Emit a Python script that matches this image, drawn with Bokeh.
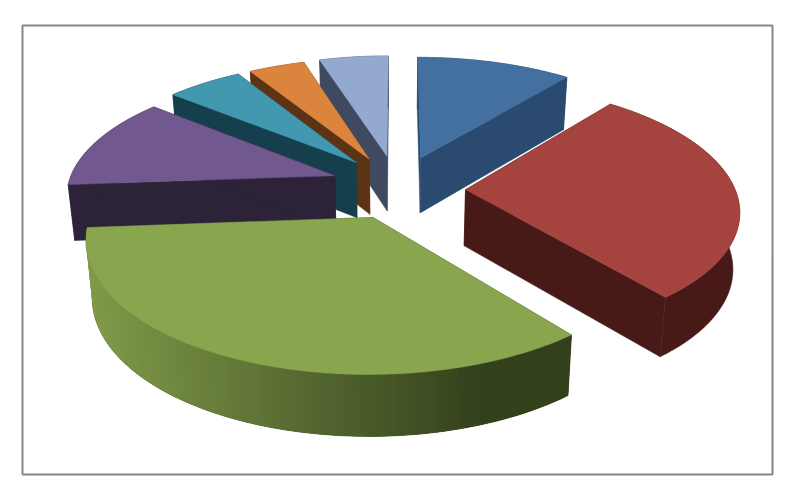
import math
from bokeh.plotting import figure
from bokeh.models import Range1d
from bokeh.embed import file_html
from bokeh.resources import INLINE

# Data
categories = ["A", "B", "C", "D", "E", "F", "G"]
shares = [10.8, 28.4, 34.6, 12.2, 5.3, 3.9, 4.8]
start_angle = 0.0

# Styles
top_colors = ["#44709F", "#A5433F", "#89A54E", "#71588F", "#4198AF", "#DB843D", "#93A9CF"]
side_colors = ["#2A4A70", "#471A18", "#33401C", "#2D2339", "#153F4C", "#5C3314", "#3F4A60"]
rim_light = (0x80, 0x9A, 0x49)
rim_dark = (0x33, 0x40, 0x1C)

# Exploded-pie layout: per slice pull-out, a small trim of its direction (degrees), radius scale
explode = [72, 68, 68, 69, 71, 71, 73]
explode_turn = [0, 4, -3, 5, 4, 0, 0]
radius_scale = [1.0, 0.985, 1.0, 0.98, 1.0, 1.0, 1.0]
draw_order = [6, 0, 5, 4, 3, 1, 2]

CX, CY, R, TILT, D = 397.0, 187.0, 273.0, 0.453, 1830.0


def project(X, Y):
    s = D / (D + Y)
    return CX + X * s, CY - TILT * Y * s


def drop(x, y):
    return x + 0.02 * (CX - x), y + 50 + 0.032 * y


def hexof(c):
    return "#%02X%02X%02X" % tuple(int(round(v)) for v in c)


p = figure(width=784, height=484, output_backend="svg", toolbar_location=None,
           x_range=Range1d(0, 784), y_range=Range1d(484, 0),
           x_axis_location=None, y_axis_location=None, min_border=0)
p.grid.visible = False
p.outline_line_color = None
p.background_fill_color = "white"
p.border_fill_color = "white"

p.quad(left=[22], right=[772], top=[25], bottom=[474], fill_color="white",
       line_color="#868686", line_width=2)

total = sum(shares)
edges = [start_angle]
for v in shares:
    edges.append(edges[-1] + 360.0 * v / total)

for i in draw_order:
    a0, a1 = edges[i], edges[i + 1]
    mid = math.radians((a0 + a1) / 2 + explode_turn[i])
    ex, ey = explode[i] * math.sin(mid), explode[i] * math.cos(mid)
    n = max(6, int(a1 - a0))
    r = R * radius_scale[i]
    rim = []
    for k in range(n + 1):
        t = math.radians(a0 + (a1 - a0) * k / n)
        rim.append(project(ex + r * math.sin(t), ey + r * math.cos(t)))
    apex = project(ex, ey)

    # radial faces
    for pt in (rim[0], rim[-1]):
        q = [apex, pt, drop(*pt), drop(*apex)]
        p.patch([c[0] for c in q], [c[1] for c in q], fill_color=side_colors[i],
                line_color=side_colors[i], line_width=0.5)
    # outer rim: one flat band, the green slice shaded left to right on top of it
    band = rim + [drop(*c) for c in reversed(rim)]
    p.patch([c[0] for c in band], [c[1] for c in band], fill_color=side_colors[i],
            line_color=side_colors[i], line_width=0.5)
    if i == 2:
        xs, ys, cols = [], [], []
        for k in range(n - 1, -1, -1):
            q = [rim[k], rim[min(n, k + 2)], drop(*rim[min(n, k + 2)]), drop(*rim[k])]
            xs.append([c[0] for c in q]); ys.append([c[1] for c in q])
            f = min(1.0, max(0.0, ((rim[k][0] + rim[k + 1][0]) / 2 - 90) / 400.0))
            cols.append(hexof([l + (d - l) * f for l, d in zip(rim_light, rim_dark)]))
        p.patches(xs, ys, fill_color=cols, line_color=None)
    top = [apex] + rim
    p.patch([c[0] for c in top], [c[1] for c in top], fill_color=top_colors[i],
            line_color=top_colors[i], line_width=0.5)

open("out.html", "w").write(file_html(p, INLINE))
